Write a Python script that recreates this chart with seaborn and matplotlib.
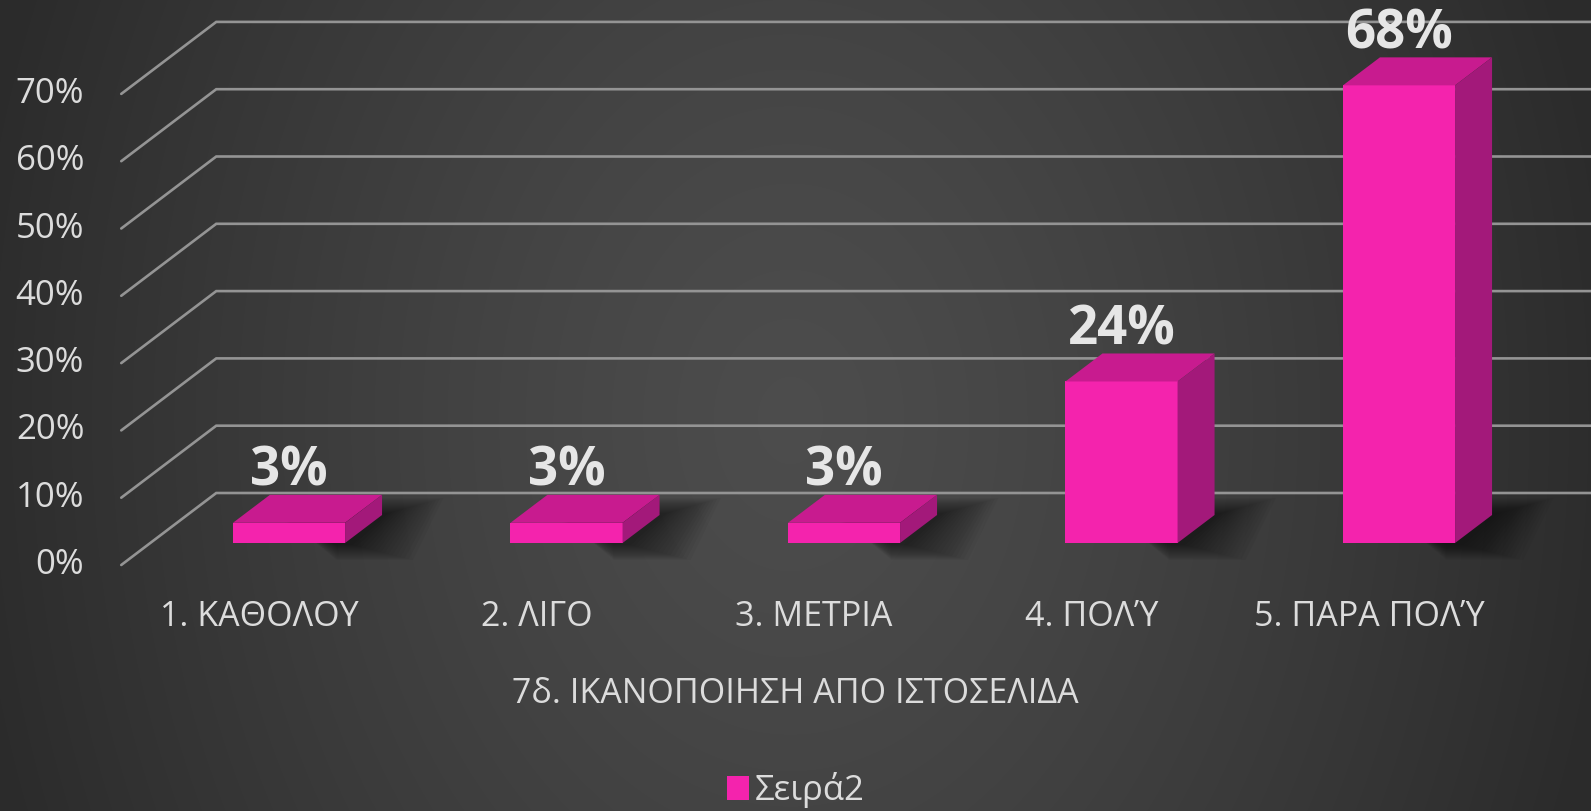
import numpy as np
import pandas as pd
import matplotlib
matplotlib.use("Agg")
import matplotlib.pyplot as plt
import seaborn as sns
from matplotlib.patches import Polygon, Patch

# data
categories = ['1. ΚΑΘΟΛΟΥ', '2. ΛΙΓΟ', '3. ΜΕΤΡΙΑ', '4. ΠΟΛΎ', '5. ΠΑΡΑ ΠΟΛΎ']
values = [3, 3, 3, 24, 68]
value_labels = ['3%', '3%', '3%', '24%', '68%']
y_ticks = [0, 10, 20, 30, 40, 50, 60, 70]
y_tick_labels = ['0%', '10%', '20%', '30%', '40%', '50%', '60%', '70%']
series_name = 'Σειρά2'
axis_title = '7δ. ΙΚΑΝΟΠΟΙΗΣΗ ΑΠΟ ΙΣΤΟΣΕΛΙΔΑ'

FRONT = '#f423ad'
TOP = '#c81b8f'
SIDE = '#a3197a'
GRID = '#949494'
TEXT = '#dcdcdc'


def main():
    sns.set_style('white')
    plt.rcParams['font.family'] = ['Open Sans', 'DejaVu Sans']

    W, H, DPI = 1591, 811, 100
    fig = plt.figure(figsize=(W / DPI, H / DPI), dpi=DPI)

    # dark radial gradient background
    bg = fig.add_axes([0, 0, 1, 1], zorder=-10)
    yy, xx = np.mgrid[0:H, 0:W]
    r = np.sqrt(((xx - 790) / 830.0) ** 2 + ((yy - 420) / 1100.0) ** 2)
    shade = 0.30 - 0.13 * np.clip(r, 0, 1) ** 1.3
    rgb = np.dstack([shade, shade, shade])
    bg.imshow(rgb, aspect='auto', interpolation='bilinear')
    bg.axis('off')

    ax = fig.add_axes([0, 0, 1, 1])
    ax.set_facecolor('none')

    df = pd.DataFrame({'cat': categories, 'val': values})
    sns.barplot(data=df, x='cat', y='val', color=FRONT, saturation=1,
                width=0.404, linewidth=0, edgecolor='none', ax=ax, zorder=5)

    # category step 277.5 px, 10% = 67.3 px, floor at 543 px from top
    ax.set_xlim(-289 / 277.5, (W - 289) / 277.5)
    ax.set_ylim(-(H - 543) / 6.73, 543 / 6.73)
    ax.axis('off')

    px = 1 / 277.5   # data units per pixel, x
    py = 1 / 6.73    # data units per pixel, y

    # depth vectors in pixels (x right, y up)
    bar_d = (37, 28)
    floor_front = (-29, -22)
    floor_back = (66, 50)
    xleft = -0.5
    xmax = ax.get_xlim()[1] + 1

    # back wall and side wall gridlines
    for v, lab in zip(y_ticks, y_tick_labels):
        bx = xleft + floor_back[0] * px
        by = v + floor_back[1] * py
        fx = xleft + floor_front[0] * px
        fy = v + floor_front[1] * py
        ax.plot([fx, bx, xmax], [fy, by, by], color=GRID, lw=1.9,
                solid_joinstyle='miter', zorder=1)
        ax.text(fx - 37 * px, fy, lab, ha='right', va='center',
                fontsize=25, color=TEXT, zorder=6)

    # 3D faces, shadows and value labels on each bar
    dx, dy = bar_d[0] * px, bar_d[1] * py
    for p, lab in zip(ax.patches[:len(values)], value_labels):
        x0, w, h = p.get_x(), p.get_width(), p.get_height()
        for k in range(16):
            s = (8 + 4 * k) * px
            g = (2 + 1.0 * k) * py
            ax.add_patch(Polygon([(x0 + w - 0.03, -g), (x0 + w + s, -g),
                                  (x0 + w + dx + s * 0.9, dy + g),
                                  (x0 + dx - 0.03, dy + g)],
                                 closed=True, color='black', alpha=0.035,
                                 lw=0, zorder=2))
        ax.add_patch(Polygon([(x0, h), (x0 + w, h), (x0 + w + dx, h + dy),
                              (x0 + dx, h + dy)], closed=True,
                             facecolor=TOP, lw=0, zorder=5))
        ax.add_patch(Polygon([(x0 + w, 0), (x0 + w + dx, dy),
                              (x0 + w + dx, h + dy), (x0 + w, h)],
                             closed=True, facecolor=SIDE, lw=0, zorder=5))
        ax.text(x0 + w / 2, h + dy + 9 * py, lab, ha='center', va='baseline',
                fontsize=38, fontweight='bold', color='#e6e6e6', zorder=7)

    # category labels along the front edge of the floor
    for i, c in enumerate(categories):
        ax.text(i - 30 * px, -74 * py, c, ha='center', va='center',
                fontsize=24.5, color=TEXT, zorder=6)

    fig.text(0.5, 1 - 694 / H, axis_title, ha='center', va='center',
             fontsize=24.5, color=TEXT)

    fig.legend(handles=[Patch(facecolor=FRONT, edgecolor='none', lw=0)],
               labels=[series_name],
               loc='center', bbox_to_anchor=(0.5, 1 - 790 / H),
               frameon=False, fontsize=25, labelcolor=TEXT,
               handlelength=0.66, handleheight=0.66, handletextpad=0.15)

    fig.savefig('out.png', dpi=DPI)


if __name__ == "__main__":
    main()
